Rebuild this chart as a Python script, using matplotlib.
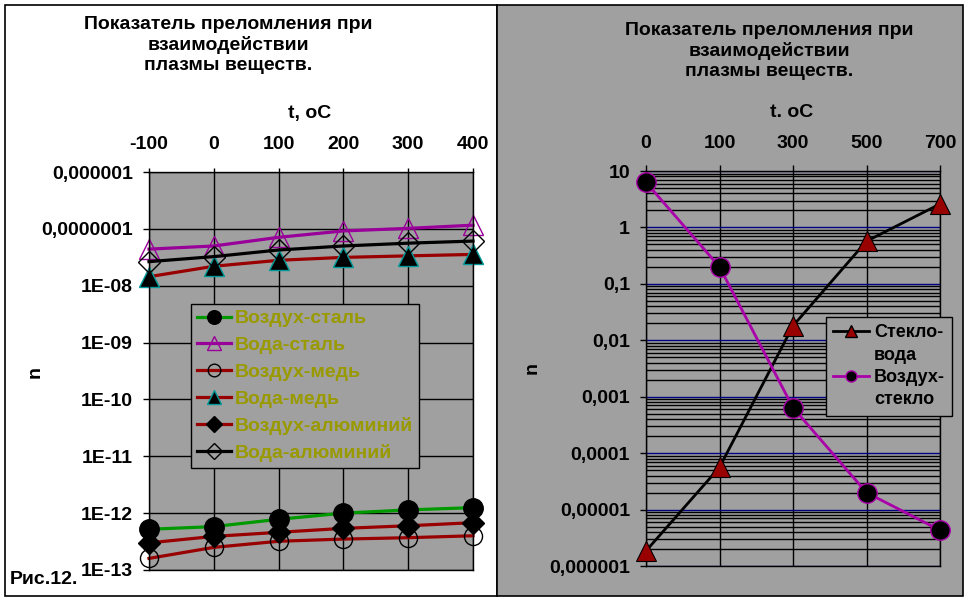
import numpy as np
import matplotlib
matplotlib.use('Agg')
import matplotlib.pyplot as plt
from matplotlib.patches import Rectangle
from matplotlib.lines import Line2D
from matplotlib.ticker import LogLocator, NullFormatter

# --- данные ---
# левый график: t, oC
t_left = [-100, 0, 100, 200, 300, 400]
vozduh_stal = [5.2e-13, 5.8e-13, 7.8e-13, 1.0e-12, 1.14e-12, 1.25e-12]
voda_stal = [4.4e-8, 5.0e-8, 7.1e-8, 9.2e-8, 1.02e-7, 1.16e-7]
vozduh_med = [1.6e-13, 2.5e-13, 3.2e-13, 3.5e-13, 3.7e-13, 4.0e-13]
voda_med = [1.44e-8, 2.2e-8, 2.8e-8, 3.15e-8, 3.35e-8, 3.55e-8]
vozduh_al = [3.0e-13, 3.9e-13, 4.6e-13, 5.4e-13, 6.0e-13, 6.8e-13]
voda_al = [2.65e-8, 3.25e-8, 4.25e-8, 5.0e-8, 5.6e-8, 6.1e-8]
yticks_left = [1e-6, 1e-7, 1e-8, 1e-9, 1e-10, 1e-11, 1e-12, 1e-13]
ylabels_left = ['0,000001', '0,0000001', '1E-08', '1E-09', '1E-10',
                '1E-11', '1E-12', '1E-13']

# правый график: категории t
t_right = ['0', '100', '300', '500', '700']
steklo_voda = [1.85e-6, 5.6e-5, 0.018, 0.57, 2.6]
vozduh_steklo = [6.3, 0.2, 6.4e-4, 2.0e-5, 4.3e-6]
yticks_right = [10, 1, 0.1, 0.01, 0.001, 1e-4, 1e-5, 1e-6]
ylabels_right = ['10', '1', '0,1', '0,01', '0,001', '0,0001', '0,00001',
                 '0,000001']

title = 'Показатель преломления при\nвзаимодействии\nплазмы веществ.'

W, H = 968, 601
GRAY = '#a0a0a0'
OLIVE = '#999900'
plt.rcParams['font.family'] = ['Liberation Sans', 'DejaVu Sans']
plt.rcParams['font.weight'] = 'bold'

fig = plt.figure(figsize=(W / 100, H / 100), dpi=100)


def box(x0, y0, x1, y1):
    # пиксельная рамка -> координаты фигуры
    return [x0 / W, 1 - y1 / H, (x1 - x0) / W, (y1 - y0) / H]


def fx(x):
    return x / W


def fy(y):
    return 1 - y / H


# фоновые панели
fig.add_artist(Rectangle((fx(5), fy(596)), fx(497) - fx(5), fy(5) - fy(596),
                         transform=fig.transFigure, facecolor='white',
                         edgecolor='black', lw=1.2, zorder=0))
fig.add_artist(Rectangle((fx(497), fy(596)), fx(963) - fx(497), fy(5) - fy(596),
                         transform=fig.transFigure, facecolor=GRAY,
                         edgecolor='black', lw=1.2, zorder=0))

# ---------- левый график ----------
ax1 = fig.add_axes(box(149, 172, 473, 570))
ax1.set_facecolor(GRAY)
ax1.set_yscale('log')
ax1.set_ylim(1e-13, 1e-6)
ax1.set_xlim(-100, 400)
ax1.xaxis.tick_top()
ax1.set_xticks(t_left)
ax1.set_xticklabels([str(t) for t in t_left])
ax1.set_yticks(yticks_left)
ax1.set_yticklabels(ylabels_left)
ax1.minorticks_off()
ax1.grid(True, color='black', lw=1)
ax1.tick_params(axis='y', direction='out', length=4.5, width=1,
                labelsize=14, pad=7)
ax1.tick_params(axis='x', direction='out', length=3, width=1,
                labelsize=14, pad=11)
for s in ax1.spines.values():
    s.set_linewidth(1)

ms = 14
kw = dict(lw=2.3, clip_on=False)
ax1.plot(t_left, vozduh_stal, color='#009900', marker='o', ms=ms,
         mfc='black', mec='black', label='Воздух-сталь', **kw)
ax1.plot(t_left, voda_stal, color='#990099', marker='^', ms=ms,
         mfc='none', mec='#990099', label='Вода-сталь', **kw)
ax1.plot(t_left, vozduh_med, color='#990000', marker='o', ms=13,
         mfc='none', mec='black', mew=1, label='Воздух-медь', **kw)
ax1.plot(t_left, voda_med, color='#990000', marker='^', ms=ms,
         mfc='black', mec='#009999', mew=1, label='Вода-медь', **kw)
ax1.plot(t_left, vozduh_al, color='#990000', marker='D', ms=11,
         mfc='black', mec='black', label='Воздух-алюминий', **kw)
ax1.plot(t_left, voda_al, color='black', marker='D', ms=11,
         mfc='none', mec='black', mew=1, label='Вода-алюминий', **kw)

leg1 = ax1.legend(loc='upper left', bbox_to_anchor=(fx(191), fy(304)),
                  bbox_transform=fig.transFigure, borderaxespad=0,
                  frameon=True, fancybox=False, facecolor=GRAY,
                  edgecolor='black', framealpha=1, labelcolor=OLIVE,
                  prop={'size': 14, 'weight': 'bold'}, markerscale=0.7,
                  handlelength=1.75, handletextpad=0.2, labelspacing=0.47,
                  borderpad=0.3)
leg1.get_frame().set_linewidth(1)

# ---------- правый график ----------
ax2 = fig.add_axes(box(646, 171, 940, 566))
ax2.set_facecolor(GRAY)
x2 = np.arange(len(t_right))
ax2.set_yscale('log')
ax2.set_ylim(1e-6, 10)
ax2.set_xlim(0, len(t_right) - 1)
ax2.xaxis.tick_top()
ax2.set_xticks(x2)
ax2.set_xticklabels(t_right)
ax2.set_yticks(yticks_right)
ax2.set_yticklabels(ylabels_right)
ax2.yaxis.set_minor_locator(LogLocator(base=10, subs=np.arange(2, 10)))
ax2.yaxis.set_minor_formatter(NullFormatter())
ax2.grid(True, which='minor', axis='y', color='black', lw=1)
ax2.grid(True, which='major', axis='y', color='#000080', lw=1)
ax2.grid(True, which='major', axis='x', color='black', lw=1)
ax2.tick_params(which='minor', length=0)
ax2.tick_params(axis='y', direction='out', length=4.5, width=1,
                labelsize=14, pad=7)
ax2.tick_params(axis='x', direction='out', length=4.5, width=1,
                labelsize=14, pad=9)
for s in ax2.spines.values():
    s.set_linewidth(1)

ax2.plot(x2, steklo_voda, color='black', lw=2, marker='^', ms=14,
         mfc='#990000', mec='black', mew=0.8, clip_on=False, zorder=3)
ax2.plot(x2, vozduh_steklo, color='#aa00aa', lw=2, marker='o', ms=14,
         mfc='black', mec='#aa00aa', mew=1, clip_on=False, zorder=3)

h_sv = Line2D([], [], color='black', lw=2, marker='^', ms=9,
              mfc='#990000', mec='black')
h_vs = Line2D([], [], color='#aa00aa', lw=2, marker='o', ms=8,
              mfc='black', mec='#aa00aa')
h_none = Line2D([], [], color='none')
leg2 = ax2.legend([h_sv, h_none, h_vs, h_none],
                  ['Стекло-', 'вода', 'Воздух-', 'стекло'],
                  loc='upper left', bbox_to_anchor=(fx(826), fy(317)),
                  bbox_transform=fig.transFigure, borderaxespad=0,
                  frameon=True, fancybox=False, facecolor=GRAY,
                  edgecolor='black', framealpha=1,
                  prop={'size': 13, 'weight': 'bold'},
                  handlelength=2.0, handletextpad=0.25, labelspacing=0.3,
                  borderpad=0.4)
leg2.get_frame().set_linewidth(1)

# ---------- подписи ----------
fig.text(fx(228), fy(45), title, ha='center', va='center', fontsize=14,
         fontweight='bold', linespacing=1.2)
fig.text(fx(769), fy(51), title, ha='center', va='center', fontsize=14,
         fontweight='bold', linespacing=1.2)
fig.text(fx(310), fy(113), 't, oC', ha='center', va='center', fontsize=14,
         fontweight='bold')
fig.text(fx(792), fy(112), 't. oC', ha='center', va='center', fontsize=14,
         fontweight='bold')
fig.text(fx(35), fy(372), 'n', ha='center', va='center', fontsize=14,
         fontweight='bold', rotation=90)
fig.text(fx(532), fy(368), 'n', ha='center', va='center', fontsize=14,
         fontweight='bold', rotation=90)
fig.text(fx(10), fy(579), 'Рис.12.', ha='left', va='center', fontsize=14,
         fontweight='bold')

fig.savefig('out.png', dpi=100)
